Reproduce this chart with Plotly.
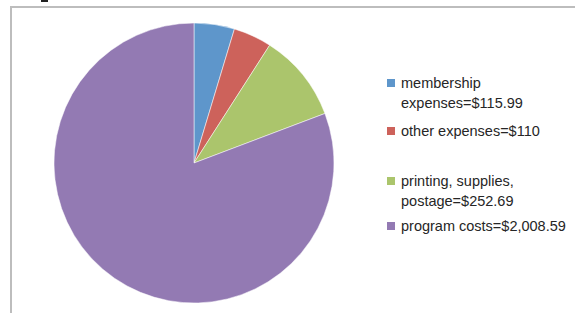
import plotly.graph_objects as go

labels = ["membership<br>expenses=$115.99", "other expenses=$110",
          "printing, supplies,<br>postage=$252.69", "program costs=$2,008.59"]
values = [115.99, 110, 252.69, 2008.59]
colors = ["#5E96CB", "#CD625B", "#ABC56C", "#937AB3"]
legend_line_y = [83, 131, 181, 226]  # pixel y of each legend item's first line

W, H = 575, 313
FONT = "Liberation Sans"
FS = 14.5
TXT = "#262626"

fig = go.Figure(go.Pie(
    labels=labels, values=values, sort=False, direction="clockwise", rotation=0,
    marker=dict(colors=colors, line=dict(color="white", width=0.5)),
    textinfo="none", hoverinfo="label+value", showlegend=False,
    domain=dict(x=[54 / W, 334 / W], y=[10 / H, 290 / H]),
))

shapes = [
    dict(type="rect", xref="paper", yref="paper", x0=11 / W, x1=1.05,
         y0=-0.05, y1=(H - 7) / H, line=dict(color="#BDBDBD", width=2)),
    dict(type="rect", xref="paper", yref="paper", x0=41 / W, x1=48 / W,
         y0=(H - 2) / H, y1=1.0, line=dict(width=0), fillcolor="#222"),
]
annotations = []
for lab, col, y0 in zip(labels, colors, legend_line_y):
    shapes.append(dict(type="rect", xref="paper", yref="paper",
                       x0=387 / W, x1=395 / W, y0=(H - y0 - 4) / H, y1=(H - y0 + 4) / H,
                       line=dict(width=0), fillcolor=col))
    for i, line in enumerate(lab.split("<br>")):
        yy = y0 + 20 * i
        annotations.append(dict(xref="paper", yref="paper", x=399 / W, y=(H - yy) / H,
                                xanchor="left", yanchor="middle", showarrow=False,
                                text=line, font=dict(family=FONT, size=FS, color=TXT)))

fig.update_layout(
    width=W, height=H, margin=dict(l=0, r=0, t=0, b=0),
    paper_bgcolor="white", plot_bgcolor="white",
    font=dict(family=FONT, size=FS, color=TXT),
    shapes=shapes, annotations=annotations,
)
fig.write_html("out.html", config={"displayModeBar": False},
               post_script="document.body.style.margin='0';")
